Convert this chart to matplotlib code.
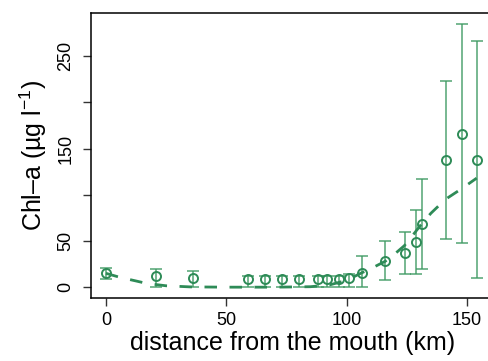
import matplotlib
matplotlib.use("Agg")
import matplotlib.pyplot as plt
import numpy as np

plt.rcParams['font.family'] = ['Liberation Sans', 'DejaVu Sans']
plt.rcParams['mathtext.fontset'] = 'custom'
plt.rcParams['mathtext.rm'] = 'Liberation Sans'
plt.rcParams['mathtext.it'] = 'Liberation Sans:italic'

# observed means and error bar ends
distance = [0, 20.9, 36.0, 59.0, 65.9, 73.2, 80.4, 88.0, 91.8, 96.7, 100.8,
            106.5, 116.0, 124.2, 128.8, 131.4, 141.1, 148.1, 154.1]
chla = [15.2, 11.9, 10.4, 8.7, 8.7, 8.7, 8.7, 8.7, 8.7, 8.7, 10.4,
        15.2, 28.5, 36.8, 48.7, 68.5, 137.8, 166.2, 137.8]
err_upper = [21.2, 20.1, 18.0, 12.0, 12.0, 12.0, 12.0, 12.0, 12.0, 12.0, 14.0,
             33.5, 49.8, 59.5, 83.3, 116.9, 223.6, 285.3, 266.2]
err_lower = [9.3, 0, 0, 0, 0, 0, 0, 0, 0, 0, 0,
             0, 8.2, 14.1, 14.1, 20.1, 52.6, 47.6, 10.1]

# fitted curve
fit_x = [0, 6, 12, 17, 25, 35, 50, 70, 85, 93, 98, 101, 105, 110, 116, 120,
         124, 128, 131, 135, 141, 148, 154]
fit_y = [15, 10.5, 7, 4, 1.5, 0.3, 0, 0, 0.5, 2.5, 6, 8.5, 14, 20, 28, 36,
         45, 58, 68, 80, 95, 107, 118]

W, H = 488, 361
fig = plt.figure(figsize=(W / 100, H / 100), dpi=100)
ax = fig.add_axes([91 / W, 1 - 297.7 / H, (494 - 91) / W, (297.7 - 13.3) / H])

green = '#2e8b57'
bar_green = '#3f9a63'

yerr = [np.array(chla) - np.array(err_lower), np.array(err_upper) - np.array(chla)]
ax.errorbar(distance, chla, yerr=yerr, fmt='none', ecolor=bar_green,
            elinewidth=1.1, capsize=4.5, capthick=1.1, alpha=0.9, zorder=2)
ax.plot(distance, chla, 'o', mfc='none', mec=green, mew=1.4, ms=6.5, zorder=3)
ax.plot(fit_x, fit_y, '--', color=green, lw=2.0, dashes=(4.5, 4.5), zorder=2)

ax.set_xlim(-6.2, 161.2)
ax.set_ylim(-11.4, 296.4)

ax.set_xticks([0, 50, 100, 150])
ax.set_xticklabels(['0', '50', '100', '150'], fontsize=13)
ax.set_yticks([0, 50, 100, 150, 200, 250])
ax.set_yticklabels(['0', '50', '', '150', '', '250'], fontsize=13,
                   rotation=90, va='center')
ax.tick_params(axis='both', direction='out', length=6, width=1, color='#333333')
ax.tick_params(axis='x', pad=4)
ax.tick_params(axis='y', pad=6)
for s in ax.spines.values():
    s.set_linewidth(1.1)
    s.set_color('black')

ax.set_xlabel('distance from the mouth (km)', fontsize=18, labelpad=2)
ax.set_ylabel(r'Chl–a (µg l$^{-1}$)', fontsize=18, labelpad=6)

fig.savefig('out.png', dpi=100)
